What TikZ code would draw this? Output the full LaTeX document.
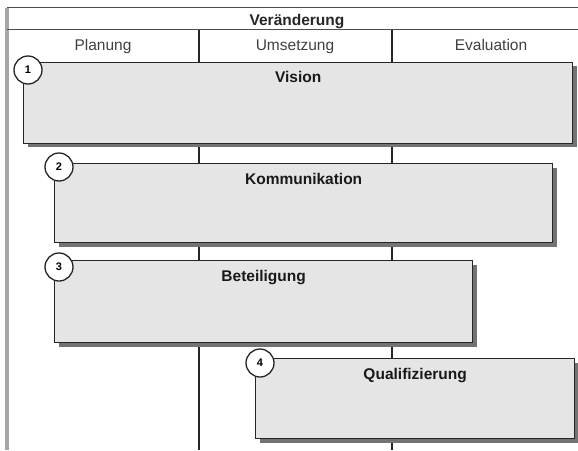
\documentclass[tikz,border=0pt]{standalone}
\usepackage{fontspec}
\setmainfont{Liberation Sans}
\usetikzlibrary{shadows}
\begin{document}
\begin{tikzpicture}[x=1pt,y=-1pt,
  frameline/.style={draw=black!70, line width=1.4pt},
  leftline/.style={draw=black!35, line width=4pt},
  divline/.style={draw=black!85, line width=1.2pt},
  phasebox/.style={draw=black!85, line width=1.3pt, fill=black!10, anchor=north west, inner sep=0pt,
    drop shadow={shadow xshift=4pt, shadow yshift=-4pt, fill=black!55, opacity=1}},
  boxtitle/.style={anchor=base, font=\fontsize{15.5}{18}\selectfont\bfseries, text=black!90, inner sep=0pt},
  headtext/.style={anchor=base, font=\fontsize{15.5}{18}\selectfont, text=black!75, inner sep=0pt},
  headbold/.style={anchor=base, font=\fontsize{15.5}{18}\selectfont\bfseries, text=black!85, inner sep=0pt},
  numcircle/.style={circle, draw=black!85, line width=1.3pt, fill=white, minimum size=28pt, inner sep=0pt,
    font=\fontsize{11}{13}\selectfont\bfseries}
]
\useasboundingbox (0,0) rectangle (578,450);
\fill[white] (0,0) rectangle (578,450);

% frame
\coordinate (fl-top) at (7,7.5);
\coordinate (fl-bot) at (7,450);
\coordinate (fr-top) at (578,7.5);
\coordinate (fl-mid) at (7,29.5);
\coordinate (fr-mid) at (578,29.5);
\draw[leftline] (fl-top) -- (fl-bot);
\draw[frameline] (fl-top) -- (fr-top);
\draw[frameline] (fl-mid) -- (fr-mid);

% column dividers
\coordinate (d1-top) at (199,29.5);
\coordinate (d1-bot) at (199,450);
\coordinate (d2-top) at (392,29.5);
\coordinate (d2-bot) at (392,450);
\draw[divline] (d1-top) -- (d1-bot);
\draw[divline] (d2-top) -- (d2-bot);

% header texts
\node[headbold] (veraenderung) at (297,25) {Veränderung};
\node[headtext] (planung) at (103,50) {Planung};
\node[headtext] (umsetzung) at (295,50) {Umsetzung};
\node[headtext] (evaluation) at (491,50) {Evaluation};

% boxes
\node[phasebox, minimum width=549pt, minimum height=81pt] (vision) at (23,61.5) {};
\node[boxtitle] (vision-t) at ([yshift=-21pt]vision.north) {Vision};
\node[numcircle] (n1) at (28,70) {1};

\node[phasebox, minimum width=498pt, minimum height=79pt] (komm) at (54,163) {};
\node[boxtitle] (komm-t) at ([yshift=-21pt]komm.north) {Kommunikation};
\node[numcircle] (n2) at (59,167) {2};

\node[phasebox, minimum width=418pt, minimum height=82pt] (beteil) at (54,260) {};
\node[boxtitle] (beteil-t) at ([yshift=-21pt]beteil.north) {Beteiligung};
\node[numcircle] (n3) at (59,267) {3};

\node[phasebox, minimum width=319pt, minimum height=80pt] (quali) at (255,358) {};
\node[boxtitle] (quali-t) at ([yshift=-21pt]quali.north) {Qualifizierung};
\node[numcircle] (n4) at (260,363) {4};
\end{tikzpicture}
\end{document}
